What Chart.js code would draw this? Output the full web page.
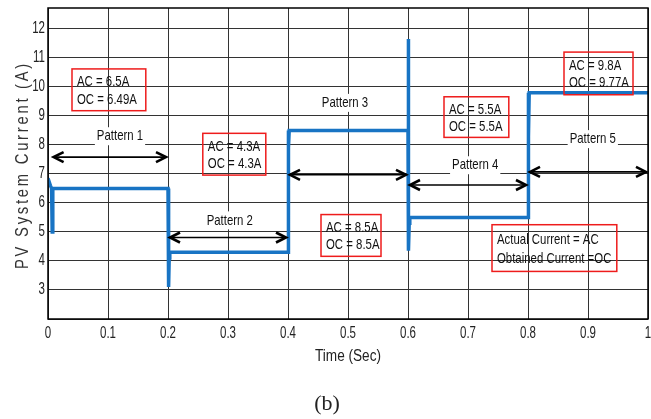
<!DOCTYPE html>
<html>
<head>
<meta charset="utf-8">
<script src="https://cdn.jsdelivr.net/npm/chart.js@4.4.1/dist/chart.umd.min.js"></script>
<style>
  html, body { margin: 0; padding: 0; background: #fff; }
  #wrap { width: 651px; height: 419px; position: relative; }
</style>
</head>
<body>
<div id="wrap"><canvas id="chart" width="651" height="419"></canvas></div>
<script>
// Measured PV current, step response over 5 irradiance patterns
const timeSec  = [0, 0.004, 0.006, 0.007, 0.008, 0.2, 0.201, 0.202, 0.203, 0.4, 0.4005, 0.401, 0.402, 0.6, 0.6005, 0.601, 0.602, 0.603, 0.8, 0.8005, 0.801, 0.802, 1.0];
const currentA = [6.85, 6.6, 6.5, 5.0, 6.5, 6.5, 3.1, 4.1, 4.3, 4.3, 8.5, 7.9, 8.5, 8.5, 11.65, 4.35, 5.3, 5.5, 5.5, 9.8, 8.3, 9.8, 9.8];

const xTicks = [0, 0.1, 0.2, 0.3, 0.4, 0.5, 0.6, 0.7, 0.8, 0.9, 1];
const yTicks = [2, 3, 4, 5, 6, 7, 8, 9, 10, 11, 12];

// pattern arrows: from, to, level, label position
const patternNames  = ['Pattern 1', 'Pattern 2', 'Pattern 3', 'Pattern 4', 'Pattern 5'];
const arrowFrom     = [0.006, 0.2, 0.4, 0.6, 0.8];
const arrowTo       = [0.2, 0.4, 0.6, 0.8, 1.0];
const arrowLevel    = [7.58, 4.81, 6.97, 6.62, 7.07];
const labelAtX      = [0.12, 0.303, 0.495, 0.712, 0.908];
const labelAtY      = [8.3, 5.4, 9.45, 7.3, 8.2];

// AC / OC boxes: left/right in time, top/bottom in amps
const boxLines  = [['AC = 6.5A', 'OC = 6.49A'], ['AC = 4.3A', 'OC = 4.3A'], ['AC = 8.5A', 'OC = 8.5A'],
                   ['AC = 5.5A', 'OC = 5.5A'], ['AC = 9.8A', 'OC = 9.77A'],
                   ['Actual Current = AC', 'Obtained Current =OC']];
const boxLeft   = [0.04, 0.258, 0.455, 0.66, 0.86, 0.74];
const boxRight  = [0.163, 0.363, 0.555, 0.768, 0.975, 0.948];
const boxTop    = [10.62, 8.4, 5.6, 9.66, 11.2, 5.25];
const boxBottom = [9.18, 6.96, 4.16, 8.26, 9.73, 3.64];

const FONT = '"Liberation Sans", Arial, sans-serif';

// narrow text: the original uses a condensed face, squeeze horizontally
function narrowText(ctx, text, x, y, size, sx, align) {
  ctx.save();
  ctx.font = size + 'px ' + FONT;
  ctx.textBaseline = 'middle';
  ctx.textAlign = align || 'center';
  ctx.translate(x, y);
  ctx.scale(sx, 1);
  ctx.fillText(text, 0, 0);
  ctx.restore();
}

function arrowHead(ctx, x, y, dir) {
  ctx.beginPath();
  ctx.moveTo(x + dir * 10, y - 5);
  ctx.lineTo(x, y);
  ctx.lineTo(x + dir * 10, y + 5);
  ctx.stroke();
}

const overlay = {
  id: 'overlay',
  afterDatasetsDraw(chart) {
    const ctx = chart.ctx;
    const xs = chart.scales.x, ys = chart.scales.y;
    const a = chart.chartArea;
    ctx.save();

    // frame
    ctx.strokeStyle = '#000';
    ctx.lineWidth = 1.5;
    ctx.strokeRect(a.left, a.top, a.right - a.left, a.bottom - a.top);

    // tick labels
    ctx.fillStyle = '#222';
    xTicks.forEach(v => narrowText(ctx, String(v), xs.getPixelForValue(v), a.bottom + 15, 16, 0.72));
    yTicks.forEach(v => {
      if (v !== 2) narrowText(ctx, String(v), a.left - 3, ys.getPixelForValue(v), 16, 0.72, 'right');
    });

    // arrows and pattern labels
    patternNames.forEach((name, i) => {
      const x1 = xs.getPixelForValue(arrowFrom[i]) + 2;
      const x2 = xs.getPixelForValue(arrowTo[i]) - 2;
      const y = ys.getPixelForValue(arrowLevel[i]);
      ctx.strokeStyle = '#000';
      ctx.lineWidth = 1.6;
      ctx.beginPath();
      ctx.moveTo(x1, y);
      ctx.lineTo(x2, y);
      ctx.stroke();
      ctx.lineWidth = 2.6;
      arrowHead(ctx, x1, y, 1);
      arrowHead(ctx, x2, y, -1);

      const lx = xs.getPixelForValue(labelAtX[i]);
      const ly = ys.getPixelForValue(labelAtY[i]);
      ctx.font = '15px ' + FONT;
      const w = ctx.measureText(name).width * 0.76;
      ctx.fillStyle = '#fff';
      ctx.fillRect(lx - w / 2 - 2, ly - 9, w + 4, 18);
      ctx.fillStyle = '#111';
      narrowText(ctx, name, lx, ly, 15, 0.76);
    });

    // value boxes
    boxLines.forEach((lines, i) => {
      const l = xs.getPixelForValue(boxLeft[i]);
      const r = xs.getPixelForValue(boxRight[i]);
      const t = ys.getPixelForValue(boxTop[i]);
      const b = ys.getPixelForValue(boxBottom[i]);
      ctx.strokeStyle = '#ee1c1c';
      ctx.lineWidth = 1.5;
      ctx.strokeRect(l, t, r - l, b - t);
      ctx.fillStyle = '#111';
      const h = b - t;
      narrowText(ctx, lines[0], l + 5, t + h * 0.32, 15, 0.76, 'left');
      narrowText(ctx, lines[1], l + 5, t + h * 0.73, 15, 0.76, 'left');
    });

    // axis titles and caption
    ctx.fillStyle = '#222';
    narrowText(ctx, 'Time (Sec)', (a.left + a.right) / 2, 357, 16, 0.85);
    ctx.font = '22px "Liberation Serif", "Times New Roman", serif';
    ctx.textAlign = 'center';
    ctx.textBaseline = 'middle';
    ctx.fillText('(b)', 327, 404);

    ctx.translate(23, 165);
    ctx.rotate(-Math.PI / 2);
    ctx.fillStyle = '#333';
    ctx.letterSpacing = '3.5px';
    narrowText(ctx, 'PV System Current (A)', 0, 0, 19, 0.78);
    ctx.restore();
  }
};

new Chart(document.getElementById('chart'), {
  type: 'line',
  data: {
    datasets: [{
      data: timeSec.map((t, i) => ({ x: t, y: currentA[i] })),
      borderColor: '#1874c4',
      borderWidth: 3.5,
      pointRadius: 0,
      tension: 0,
      fill: false
    }]
  },
  options: {
    responsive: false,
    animation: false,
    layout: { padding: { top: 8, right: 3, left: 0, bottom: 0 } },
    plugins: { legend: { display: false }, tooltip: { enabled: false } },
    scales: {
      x: {
        type: 'linear',
        min: 0, max: 1,
        afterFit: s => { s.height = 100; s.paddingLeft = 0; s.paddingRight = 0; },
        afterBuildTicks: s => { s.ticks = xTicks.map(v => ({ value: v })); },
        grid: { color: '#333', lineWidth: 1, tickLength: 0 },
        border: { display: false },
        ticks: { display: false }
      },
      y: {
        min: 2, max: 12.72,
        afterFit: s => { s.width = 48; s.paddingTop = 0; s.paddingBottom = 0; },
        afterBuildTicks: s => { s.ticks = yTicks.map(v => ({ value: v })); },
        grid: { color: '#333', lineWidth: 1, tickLength: 0 },
        border: { display: false },
        ticks: { display: false }
      }
    }
  },
  plugins: [overlay]
});
</script>
</body>
</html>
